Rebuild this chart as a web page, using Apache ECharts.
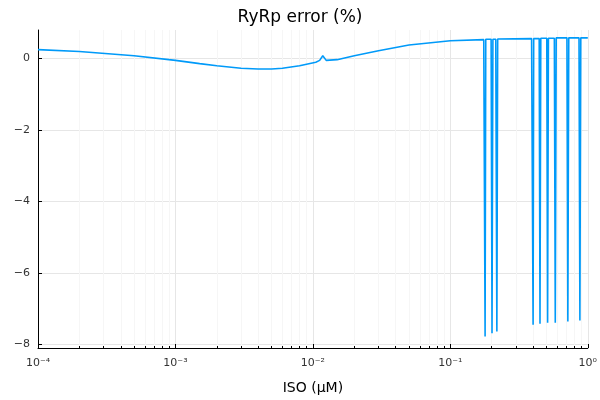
<!DOCTYPE html>
<html><head><meta charset="utf-8">
<script src="https://cdn.jsdelivr.net/npm/echarts@6/dist/echarts.min.js"></script>
<style>html,body{margin:0;padding:0}#c{width:600px;height:400px}</style>
</head><body><div id="c"></div>
<script>
const isoX = [1e-4,2e-4,5e-4,1e-3,1.5e-3,2e-3,3e-3,4e-3,5e-3,6e-3,8e-3,0.0105,0.0112,0.0118,0.0125,0.015,0.02,0.03,0.05,0.1,0.175,
0.177,0.179,0.181, 0.198,0.201,0.204, 0.214,0.218,0.221, 0.39,0.396,0.400,0.404, 0.443,0.449,0.455, 0.503,0.510,0.517, 0.571,0.580,0.589, 0.705,0.716,0.727, 0.863,0.876,0.889, 1.0];
const errY = [0.25,0.2,0.08,-0.05,-0.14,-0.2,-0.27,-0.29,-0.29,-0.27,-0.2,-0.1,-0.05,0.08,-0.05,-0.03,0.08,0.22,0.38,0.5,0.53,
0.53,-7.78,0.54, 0.54,-7.69,0.54, 0.54,-7.64,0.55, 0.56,0.56,-7.45,0.56, 0.56,-7.42,0.57, 0.57,-7.39,0.57, 0.57,-7.39,0.58, 0.58,-7.36,0.58, 0.58,-7.33,0.58, 0.58];
const yTicks = [-8,-6,-4,-2,0];
const xTicks = [1e-4,1e-3,1e-2,1e-1,1];
const font = 'DejaVu Sans';
const chart = echarts.init(document.getElementById('c'));
const sup = {'-4':'⁻⁴','-3':'⁻³','-2':'⁻²','-1':'⁻¹','0':'⁰'};
chart.setOption({
  animation:false,
  title:{text:'RyRp error (%)',left:'center',top:4,textStyle:{fontFamily:font,fontWeight:'normal',fontSize:17,color:'#000'}},
  grid:{left:38,right:9,top:30,bottom:47},
  xAxis:{type:'log',min:1e-4,max:1,logBase:10,name:'ISO (μM)',nameLocation:'middle',nameGap:33,
    nameTextStyle:{fontFamily:font,fontSize:14,color:'#000'},
    axisLine:{onZero:false,lineStyle:{color:'#000'}},axisTick:{inside:true,length:4,lineStyle:{color:'#000'}},
    minorTick:{show:true,splitNumber:9,length:2,lineStyle:{color:'#000'}},
    axisLabel:{fontFamily:font,fontSize:11,color:'#333',margin:10,formatter:v=>'10'+sup[String(Math.round(Math.log10(v)))]},
    splitLine:{show:true,lineStyle:{color:'#e6e6e6'}},minorSplitLine:{show:true,lineStyle:{color:'#f6f6f6'}}},
  yAxis:{type:'value',min:-8.1,max:0.8,
    axisLine:{show:true,lineStyle:{color:'#000'}},
    axisTick:{show:true,inside:true,length:4,customValues:yTicks,lineStyle:{color:'#000'}},
    axisLabel:{fontFamily:font,fontSize:11,color:'#333',customValues:yTicks,formatter:v=>String(v).replace('-','−')},
    splitLine:{show:true,lineStyle:{color:'#e6e6e6'}}},
  series:[{type:'line',data:isoX.map((x,i)=>[x,errY[i]]),showSymbol:false,smooth:false,lineStyle:{color:'#009af9',width:1.6}}]
});
</script></body></html>
